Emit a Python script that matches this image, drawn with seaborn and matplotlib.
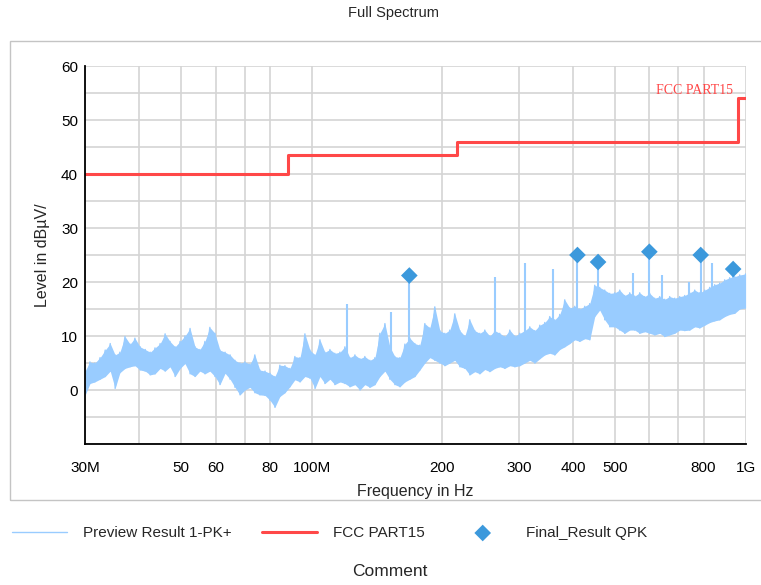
import matplotlib
matplotlib.use("Agg")
import matplotlib.pyplot as plt
from matplotlib.patches import Rectangle
from matplotlib.ticker import FixedLocator, FixedFormatter, NullLocator
import pandas as pd
import seaborn as sns

trace_freq = [
    30.0, 30.8, 31.6, 32.5, 33.4, 34.3, 35.2, 36.1, 37.1, 38.1,
    39.1, 40.2, 41.3, 42.4, 43.5, 44.7, 45.9, 47.1, 48.4, 49.7,
    51.0, 52.4, 53.8, 55.2, 56.7, 58.2, 59.8, 61.4, 63.1, 64.8,
    66.5, 68.3, 70.1, 72.0, 73.9, 75.9, 78.0, 80.1, 82.2, 84.4,
    86.7, 89.0, 91.4, 93.9, 96.4, 99.0, 101.7, 104.4, 107.2, 110.1,
    113.0, 116.1, 119.2, 122.4, 125.7, 129.1, 132.5, 136.1, 139.8, 143.5,
    147.4, 151.3, 155.4, 159.6, 163.9, 168.3, 172.8, 177.4, 182.2, 187.1,
    192.1, 197.3, 202.6, 208.0, 213.6, 219.4, 225.3, 231.3, 237.5, 243.9,
    250.5, 257.2, 264.1, 271.2, 278.5, 286.0, 293.7, 301.6, 309.7, 318.0,
    326.6, 335.4, 344.4, 353.6, 363.1, 372.9, 382.9, 393.2, 403.8, 414.6,
    425.8, 437.2, 449.0, 461.0, 473.4, 486.2, 499.2, 512.7, 526.4, 540.6,
    555.1, 570.0, 585.4, 601.1, 617.3, 633.9, 650.9, 668.4, 686.4, 704.9,
    723.8, 743.3, 763.3, 783.8, 804.9, 826.5, 848.8, 871.6, 895.0, 919.1,
    943.8, 969.2, 1000.0,
]
trace_hi = [
    3.5, 5.2, 5.0, 6.0, 7.4, 8.6, 6.5, 7.0, 9.9, 8.5,
    9.6, 8.0, 7.5, 7.0, 7.8, 8.6, 10.4, 9.0, 8.0, 9.0,
    10.0, 11.4, 8.0, 7.5, 9.0, 11.6, 10.5, 7.4, 7.0, 6.5,
    5.5, 5.0, 5.2, 4.8, 6.5, 3.7, 3.5, 3.1, 2.5, 4.6,
    4.5, 4.0, 6.2, 6.0, 10.4, 7.4, 6.5, 9.3, 7.0, 7.5,
    6.8, 7.0, 8.0, 6.0, 6.5, 5.8, 6.2, 5.5, 6.0, 10.5,
    12.3, 8.0, 6.2, 6.0, 8.5, 9.6, 8.6, 8.3, 12.3, 11.5,
    15.4, 11.0, 10.5, 11.1, 14.1, 11.0, 10.0, 13.0, 11.0, 10.5,
    11.1, 10.0, 11.0, 10.5, 9.9, 11.1, 10.0, 10.5, 11.0, 11.7,
    11.0, 12.0, 12.5, 13.6, 13.0, 14.0, 16.7, 15.2, 15.5, 15.0,
    15.5, 16.0, 19.4, 19.0, 18.5, 17.9, 18.0, 18.5, 17.5, 18.0,
    17.4, 18.0, 17.3, 17.9, 17.0, 17.3, 16.8, 17.3, 17.0, 17.3,
    17.5, 18.0, 18.5, 18.0, 18.5, 19.0, 19.5, 19.8, 20.4, 20.8,
    21.0, 21.3, 21.5,
]
trace_lo = [
    -1.0, 1.2, 1.5, 2.0, 2.5, 3.5, 0.3, 3.2, 4.0, 4.3,
    4.5, 3.7, 3.5, 2.8, 3.0, 4.0, 3.5, 4.3, 2.5, 4.0,
    4.9, 3.0, 2.5, 3.5, 3.0, 3.5, 2.5, 1.0, 3.1, 2.0,
    0.5, -0.9, 0.0, 0.5, -0.5, -0.9, -1.0, -1.9, -3.2, -1.2,
    -0.5, 0.6, 1.9, 1.5, 2.5, 2.2, 0.3, 2.5, 1.2, 2.0,
    1.0, 1.5, 1.2, 0.6, 1.0, 0.0, 1.0, 0.5, 1.0, 2.5,
    3.5, 2.0, 1.0, 0.6, 1.5, 2.0, 2.5, 3.7, 5.0, 6.0,
    5.5, 5.0, 4.5, 5.0, 5.5, 4.3, 4.0, 2.8, 3.4, 3.0,
    3.8, 3.4, 4.0, 4.3, 4.0, 4.5, 4.3, 4.5, 5.0, 5.5,
    5.0, 5.8, 6.5, 6.8, 6.5, 7.5, 8.0, 8.6, 9.3, 9.0,
    9.5, 9.3, 13.6, 14.8, 13.0, 11.7, 11.7, 11.1, 10.5, 11.1,
    11.1, 10.5, 10.8, 10.5, 10.2, 10.5, 9.9, 10.2, 10.5, 11.1,
    11.0, 11.1, 11.7, 11.5, 12.0, 12.5, 12.8, 13.0, 13.6, 14.0,
    14.2, 15.0, 15.2,
]

# narrow peaks sticking out of the preview trace
spike_freq = [120.6, 152.3, 167.8, 264.5, 310.2, 360.0, 409.6, 457.0,
              550.0, 600.0, 642.0, 741.0, 788.0, 837.0, 936.0]
spike_top = [15.9, 14.5, 21.2, 21.0, 23.5, 22.5, 25.0, 23.7,
             21.6, 25.6, 21.3, 20.0, 25.0, 23.5, 22.4]
spike_base = [5, 5, 6, 9, 9, 11, 14, 15, 17, 17, 16, 17, 17, 18, 20]

# FCC part 15 limit
limit_freq = [30, 88, 216, 960, 1000]
limit_level = [40, 43.5, 46, 54, 54]

# final quasi-peak results
qpk_freq = [167.8, 409.6, 457.0, 600.0, 788.0, 936.0]
qpk_level = [21.2, 25.0, 23.7, 25.6, 25.0, 22.4]

x_ticks = [30, 40, 50, 60, 70, 80, 100, 200, 300, 400, 500, 600, 700, 800, 1000]
x_labels = ["30M", "", "50", "60", "", "80", "100M", "200", "300", "400",
            "500", "", "", "800", "1G"]
y_ticks = [-10, -5, 0, 5, 10, 15, 20, 25, 30, 35, 40, 45, 50, 55, 60]
y_labels = ["", "", "0", "", "10", "", "20", "", "30", "", "40", "", "50", "", "60"]

TRACE = "#99CCFF"
LIMIT = "#FF4848"
QPK = "#3C99DC"

sns.set_theme(style="white")
plt.rcParams["font.family"] = ["Liberation Sans", "DejaVu Sans"]

# zigzag between the low and high envelope to mimic the dense noise band
rows = []
for f, hi, lo in zip(trace_freq, trace_hi, trace_lo):
    rows.append((f, hi))
    rows.append((f, lo))
trace = pd.DataFrame(rows, columns=["freq", "level"])

fig = plt.figure(figsize=(7.61, 5.85), dpi=100)
fig.patches.append(Rectangle((10 / 761, 1 - 500 / 585), 760 / 761, 459 / 585,
                             transform=fig.transFigure, fill=False,
                             edgecolor="#C4C4C4", linewidth=1.0))
ax = fig.add_axes([85 / 761, 141 / 585, 660.6 / 761, 378 / 585])

ax.fill_between(trace_freq, trace_lo, trace_hi, color=TRACE, linewidth=0)
sns.lineplot(data=trace, x="freq", y="level", estimator=None, sort=False,
             color=TRACE, linewidth=1.0, ax=ax, label="Preview Result 1-PK+")
ax.vlines(spike_freq, spike_base, spike_top, color=TRACE, linewidth=1.5)
sns.lineplot(x=limit_freq, y=limit_level, estimator=None, drawstyle="steps-post",
             color=LIMIT, linewidth=2.2, ax=ax, label="FCC PART15")
sns.scatterplot(x=qpk_freq, y=qpk_level, marker="D", s=72, color=QPK,
                edgecolor="none", ax=ax, label="Final_Result QPK", zorder=5)

ax.set_xscale("log")
ax.set_xlim(30, 1000)
ax.set_ylim(-10, 60)
ax.xaxis.set_major_locator(FixedLocator(x_ticks))
ax.xaxis.set_major_formatter(FixedFormatter(x_labels))
ax.xaxis.set_minor_locator(NullLocator())
ax.yaxis.set_major_locator(FixedLocator(y_ticks))
ax.yaxis.set_major_formatter(FixedFormatter(y_labels))
ax.grid(True, color="#D4D4D4", linewidth=1.2)
ax.set_axisbelow(True)
for side in ["top", "right"]:
    ax.spines[side].set_visible(False)
for side in ["left", "bottom"]:
    ax.spines[side].set_color("black")
    ax.spines[side].set_linewidth(1.3)
ax.tick_params(axis="both", direction="inout", length=7, width=1.3,
               colors="black", labelsize=11)
ax.tick_params(axis="x", pad=8.5)
ax.tick_params(axis="y", pad=1.5)
ax.set_xlabel("Frequency in Hz", fontsize=11.5, labelpad=7)
ax.set_ylabel("Level in dBµV/", fontsize=11.5, labelpad=8)

ax.text(933, 55.4, "FCC PART15", color=LIMIT, fontsize=10, ha="right",
        va="center", family=["Liberation Serif", "DejaVu Serif"])

handles, labels = ax.get_legend_handles_labels()
ax.get_legend().remove()
fig.legend(handles, labels, loc="center", bbox_to_anchor=(329.5 / 761, 1 - 533 / 585),
           ncol=3, frameon=False, fontsize=11, handlelength=3.6,
           handletextpad=1.05, columnspacing=2.0, scatterpoints=1)

fig.text(393.5 / 761, 1 - 13 / 585, "Full Spectrum", ha="center", va="center",
         fontsize=10.5)
fig.text(390 / 761, 1 - 571 / 585, "Comment", ha="center", va="center",
         fontsize=12.5)

fig.savefig("out.png", dpi=100)
